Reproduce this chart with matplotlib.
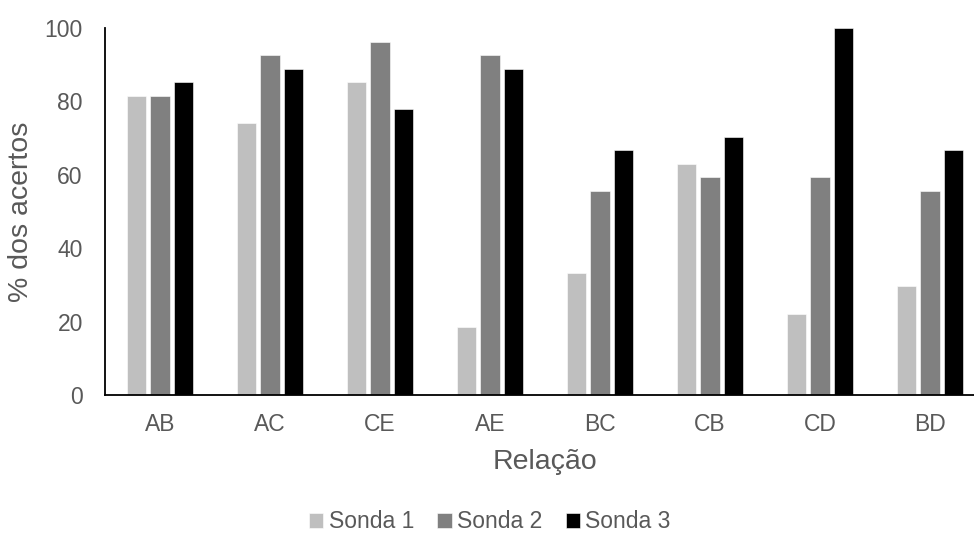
import numpy as np
import matplotlib
matplotlib.use("Agg")
import matplotlib.pyplot as plt

plt.rcParams['font.family'] = ['Liberation Sans', 'DejaVu Sans']

relacoes = ["AB", "AC", "CE", "AE", "BC", "CB", "CD", "BD"]
sonda1 = [81.5, 74.1, 85.2, 18.5, 33.3, 63.0, 22.2, 29.6]
sonda2 = [81.5, 92.6, 96.3, 92.6, 55.6, 59.3, 59.3, 55.6]
sonda3 = [85.2, 88.9, 77.8, 88.9, 66.7, 70.4, 100.0, 66.7]
series = [("Sonda 1", sonda1, "#bfbfbf"),
          ("Sonda 2", sonda2, "#808080"),
          ("Sonda 3", sonda3, "#000000")]

txt = "#595959"

fig = plt.figure(figsize=(9.74, 5.37), dpi=100)
ax = fig.add_axes([105 / 974, 142 / 537, 880 / 974, 367 / 537])

x = np.arange(len(relacoes))
w = 0.173
step = 0.218
for i, (name, vals, col) in enumerate(series):
    ax.bar(x + (i - 1) * step, vals, width=w, color=col, label=name,
           edgecolor="white", linewidth=0.4)

ax.set_xlim(-0.5, len(relacoes) - 0.5)
ax.set_ylim(0, 100)
ax.set_yticks(range(0, 101, 20))
ax.set_xticks(x)
ax.set_xticklabels(relacoes)
ax.tick_params(axis="both", length=0, labelsize=16.5, colors=txt)
ax.tick_params(axis="y", pad=16)
ax.tick_params(axis="x", pad=13)

for s in ["top", "right"]:
    ax.spines[s].set_visible(False)
for s in ["left", "bottom"]:
    ax.spines[s].set_color("black")
    ax.spines[s].set_linewidth(1.3)

ax.set_xlabel("Relação", fontsize=20.5, color=txt, labelpad=9)
ax.set_ylabel("% dos acertos", fontsize=20.5, color=txt)
ax.yaxis.set_label_coords(-0.081, 0.5)

leg = fig.legend(loc="center", ncol=3, frameon=False, fontsize=16.5,
                 handlelength=0.62, handleheight=0.62, handletextpad=0.25,
                 columnspacing=1.0, labelcolor=txt)
leg.set_bbox_to_anchor((490 / 974, 1 - 522 / 537), transform=fig.transFigure)

fig.savefig("out.png", dpi=100)
